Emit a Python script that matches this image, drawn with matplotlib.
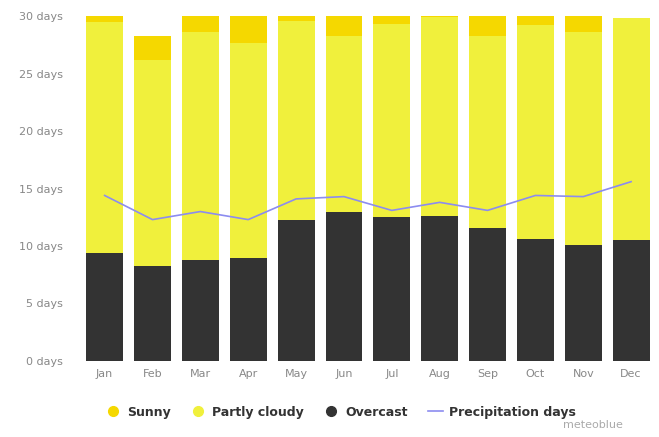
import numpy as np
import matplotlib.pyplot as plt
from matplotlib.lines import Line2D

# Data (days per month)
months = ['Jan', 'Feb', 'Mar', 'Apr', 'May', 'Jun',
          'Jul', 'Aug', 'Sep', 'Oct', 'Nov', 'Dec']
overcast = [9.4, 8.3, 8.8, 9.0, 12.3, 13.0, 12.5, 12.6, 11.6, 10.6, 10.1, 10.5]
partly_cloudy = [20.1, 17.9, 19.8, 18.7, 17.3, 15.3, 16.8, 17.3, 16.7, 18.6, 18.5, 19.3]
sunny = [0.5, 2.1, 1.4, 2.3, 0.4, 1.7, 0.7, 0.1, 1.7, 0.8, 1.4, 0.0]
precipitation = [14.4, 12.3, 13.0, 12.3, 14.1, 14.3, 13.1, 13.8, 13.1, 14.4, 14.3, 15.6]

c_sunny = '#f5d800'
c_partly = '#f0f03c'
c_overcast = '#333333'
c_precip = '#8c8cf0'
c_text = '#888888'

x = np.arange(len(months))
overcast = np.array(overcast)
partly_cloudy = np.array(partly_cloudy)
sunny = np.array(sunny)

fig = plt.figure(figsize=(6.59, 4.37), dpi=100)
ax = fig.add_axes([0.121, 0.174, 0.873, 0.789])

w = 0.77
ax.bar(x, overcast, width=w, color=c_overcast)
ax.bar(x, partly_cloudy, width=w, bottom=overcast, color=c_partly)
ax.bar(x, sunny, width=w, bottom=overcast + partly_cloudy, color=c_sunny)
ax.plot(x, precipitation, color=c_precip, linewidth=1.2)

ax.set_xlim(-0.52, 11.5)
ax.set_ylim(0, 30)
ax.set_yticks(range(0, 31, 5))
ax.set_yticklabels([f'{v} days' for v in range(0, 31, 5)])
ax.set_xticks(x)
ax.set_xticklabels(months)
ax.tick_params(length=0, labelsize=8, colors=c_text, pad=12)
ax.tick_params(axis='x', pad=6)
for s in ax.spines.values():
    s.set_visible(False)

handles = [
    Line2D([], [], marker='o', linestyle='none', color=c_sunny, markersize=7),
    Line2D([], [], marker='o', linestyle='none', color=c_partly, markersize=7),
    Line2D([], [], marker='o', linestyle='none', color=c_overcast, markersize=7),
    Line2D([], [], color=c_precip, linewidth=1.2),
]
labels = ['Sunny', 'Partly cloudy', 'Overcast', 'Precipitation days']
leg = fig.legend(handles, labels, loc='center', bbox_to_anchor=(0.517, 0.057),
                 ncol=4, frameon=False, handlelength=1.2, handletextpad=0.5,
                 columnspacing=1.6, prop={'size': 9, 'weight': 'bold'})
for t in leg.get_texts():
    t.set_color('#333333')

fig.text(0.945, 0.02, 'meteoblue', fontsize=8, color='#aaaaaa', ha='right')

plt.savefig('out.png', dpi=100)
